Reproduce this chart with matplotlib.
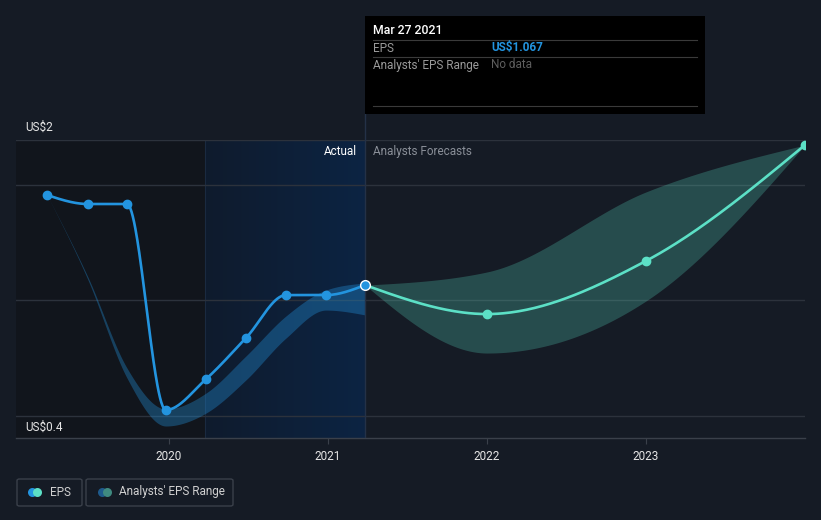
import numpy as np
import matplotlib
matplotlib.use("Agg")
import matplotlib.pyplot as plt
from matplotlib.patches import Rectangle, FancyBboxPatch
from matplotlib.colors import LinearSegmentedColormap

plt.rcParams['font.family'] = ['Roboto', 'DejaVu Sans']

# ---------------- data ----------------
eps_x = [2019.233, 2019.49, 2019.736, 2019.98, 2020.233, 2020.484, 2020.736, 2020.987, 2021.233]
eps_y = [1.681, 1.629, 1.629, 0.435, 0.614, 0.852, 1.101, 1.101, 1.159]

past_hi = [1.681, 1.206, 0.678, 0.441, 0.533, 0.748, 0.980, 1.130, 1.171]
past_lo = [1.681, 1.190, 0.620, 0.342, 0.417, 0.609, 0.852, 1.014, 0.986]

fc_x = [2021.233, 2022.0, 2023.0, 2024.0]
fc_y = [1.159, 0.991, 1.299, 1.971]
fc_hi = [1.159, 1.235, 1.699, 1.971]
fc_lo = [1.159, 0.765, 1.067, 1.971]

year_ticks = [2020, 2021, 2022, 2023]
grid_vals = [0.4, 1.072, 1.739, 2.0]
now_x = 2021.233
shade_start = 2020.226

BG = '#151b25'
BLUE = '#2394df'
TEAL = '#5ce0c6'


def monotone(x, y, n=60):
    x = np.asarray(x, float); y = np.asarray(y, float)
    h = np.diff(x); s = np.diff(y) / h
    m = np.zeros_like(y)
    for i in range(1, len(x) - 1):
        if s[i - 1] * s[i] <= 0:
            m[i] = 0
        else:
            p = (s[i - 1] * h[i] + s[i] * h[i - 1]) / (h[i - 1] + h[i])
            m[i] = (np.sign(s[i - 1]) + np.sign(s[i])) * min(abs(s[i - 1]), abs(s[i]), 0.5 * abs(p))
    m[0] = (3 * s[0] - m[1]) / 2 if len(x) > 2 else s[0]
    m[-1] = (3 * s[-1] - m[-2]) / 2 if len(x) > 2 else s[-1]
    xs, ys = [], []
    for i in range(len(x) - 1):
        t = np.linspace(0, 1, n, endpoint=(i == len(x) - 2))
        h00 = 2 * t**3 - 3 * t**2 + 1
        h10 = t**3 - 2 * t**2 + t
        h01 = -2 * t**3 + 3 * t**2
        h11 = t**3 - t**2
        xs.append(x[i] + t * h[i])
        ys.append(h00 * y[i] + h10 * h[i] * m[i] + h01 * y[i + 1] + h11 * h[i] * m[i + 1])
    return np.concatenate(xs), np.concatenate(ys)


W, H = 821, 520
fig = plt.figure(figsize=(W / 100, H / 100), dpi=100, facecolor=BG)
ax_l, ax_r, ax_t, ax_b = 16, 805, 140, 438
ax = fig.add_axes([ax_l / W, 1 - ax_b / H, (ax_r - ax_l) / W, (ax_b - ax_t) / H])
ax.set_facecolor(BG)
x0, x1 = 2019.038, 2024.0
y0, y1 = 0.2725, 2.0
ax.set_xlim(x0, x1)
ax.set_ylim(y0, y1)

# background regions
ax.add_patch(Rectangle((x0, y0), shade_start - x0, y1 - y0, color='#11151c', zorder=0, lw=0))
grad = np.linspace(0, 1, 256).reshape(1, -1)
cm = LinearSegmentedColormap.from_list('g', ['#0f1b2d', '#0c2443'])
ax.imshow(grad, extent=[shade_start, now_x, y0, y1], aspect='auto', cmap=cm, zorder=0.5)
ax.axvline(shade_start, color='#1a2a40', lw=0.8, zorder=0.6)

# grid
for g in grid_vals:
    ax.axhline(g, color='#2c323c', lw=1.0, zorder=1)

# past band
bx, bh = monotone(eps_x, past_hi)
_, bl = monotone(eps_x, past_lo)
ax.fill_between(bx, bl, bh, color=BLUE, alpha=0.35, lw=0, zorder=2)

# forecast band
fx, fh = monotone(fc_x, fc_hi)
_, fl = monotone(fc_x, fc_lo)
ax.fill_between(fx, fl, fh, color=TEAL, alpha=0.25, lw=0, zorder=2)

# lines
lx, ly = monotone(eps_x, eps_y)
ax.plot(lx, ly, color=BLUE, lw=1.9, zorder=4, solid_capstyle='round')
ax.plot(eps_x[:-1], eps_y[:-1], 'o', color=BLUE, ms=6, zorder=5)
flx, fly = monotone(fc_x, fc_y)
ax.plot(flx, fly, color=TEAL, lw=1.9, zorder=4)
ax.plot(fc_x[1:], fc_y[1:], 'o', color=TEAL, ms=6, zorder=5)
ax.plot([eps_x[-1]], [eps_y[-1]], 'o', color=BLUE, ms=7, mec='white', mew=1.0, zorder=6)

# now line
ax.axvline(now_x, color='#243147', lw=1.0, zorder=3)

for s in ['top', 'right', 'left']:
    ax.spines[s].set_visible(False)
ax.spines['bottom'].set_color('#3a404a')
ax.spines['bottom'].set_linewidth(1.0)
ax.set_yticks([])
ax.set_xticks(year_ticks)
ax.set_xticklabels([str(y) for y in year_ticks], color='#e6e6e6', fontsize=8.5)
ax.tick_params(axis='x', length=4, color='#3a404a', pad=5)


def ftext(x, y, s, **kw):
    fig.text(x / W, 1 - y / H, s, **kw)

ftext(25, 127, 'US$2', color='#e6e6e6', fontsize=8.5, va='center')
ftext(25, 427, 'US$0.4', color='#e6e6e6', fontsize=8.5, va='center')
ftext(357, 151, 'Actual', color='#ffffff', fontsize=8.5, va='center', ha='right')
ftext(373, 151, 'Analysts Forecasts', color='#8a8f98', fontsize=8.5, va='center')

fig.add_artist(plt.Line2D([365 / W, 365 / W], [1 - 140 / H, 1 - 114 / H], color='#243147', lw=1.0))

# tooltip
fig.patches.append(Rectangle((365 / W, 1 - 114 / H), 340 / W, 98 / H, transform=fig.transFigure,
                             facecolor='#000000', edgecolor='none', zorder=10))
for yy in [40, 57, 106]:
    fig.add_artist(plt.Line2D([373 / W, 697 / W], [1 - yy / H, 1 - yy / H], color='#3a3a3a', lw=0.8, zorder=11))
ftext(373, 31, 'Mar 27 2021', color='#ffffff', fontsize=8.8, va='center', fontweight='medium', zorder=12)
ftext(373, 48, 'EPS', color='#9a9a9a', fontsize=8.5, va='center', zorder=12)
ftext(491, 48, 'US$1.067', color=BLUE, fontsize=8.5, va='center', fontweight='bold', zorder=12)
ftext(373, 65, "Analysts' EPS Range", color='#9a9a9a', fontsize=8.5, va='center', zorder=12)
ftext(491, 65, 'No data', color='#5e5e5e', fontsize=8.5, va='center', zorder=12)


# legend
def box(x, y, w, h):
    fig.patches.append(FancyBboxPatch((x / W, 1 - (y + h) / H), w / W, h / H, transform=fig.transFigure,
                                      boxstyle='round,pad=0,rounding_size=0.003', facecolor='none',
                                      edgecolor='#3a404a', lw=1.0))

def dot(x, y, c):
    fig.add_artist(plt.Line2D([x / W], [1 - y / H], marker='o', ms=6.5, color=c, mew=0, lw=0))

box(17, 479, 65, 27)
box(86, 479, 147, 27)
dot(32, 492, BLUE)
dot(37, 492, TEAL)
dot(102, 492, '#1e5a8c')
dot(107, 492, '#3f8a80')
ftext(50, 492, 'EPS', color='#d0d0d0', fontsize=8.5, va='center')
ftext(119, 492, "Analysts' EPS Range", color='#d0d0d0', fontsize=8.5, va='center')

fig.savefig('out.png', dpi=100, facecolor=BG)
